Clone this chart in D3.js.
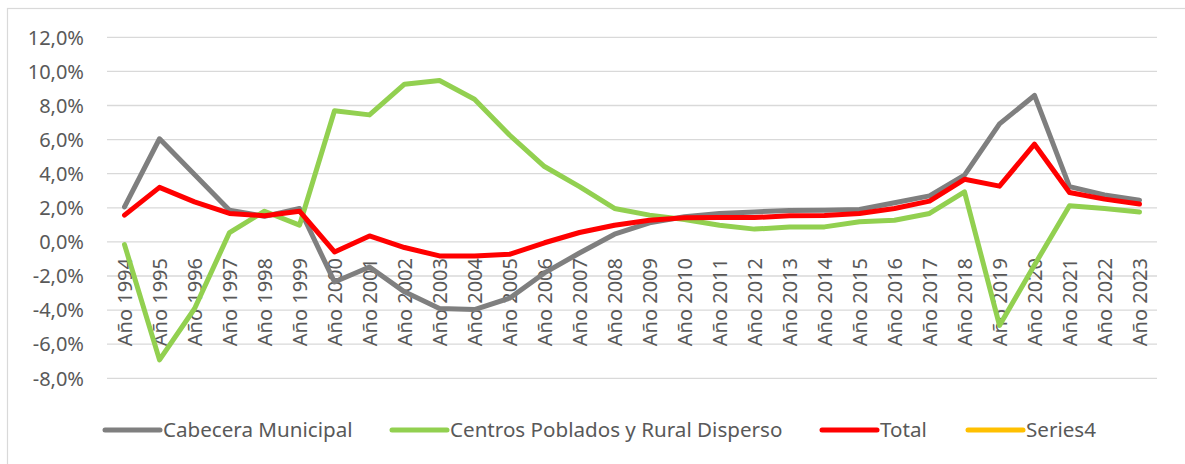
<!DOCTYPE html>
<html>
<head>
<meta charset="utf-8">
<script src="https://cdn.jsdelivr.net/npm/d3@7"></script>
<style>
  body { margin: 0; background: #fff; }
  text { font-family: "Noto Sans", sans-serif; fill: #595959; }
</style>
</head>
<body>
<div id="chart-area"></div>
<script>
// Data
var years = ["Año 1994","Año 1995","Año 1996","Año 1997","Año 1998","Año 1999","Año 2000","Año 2001","Año 2002","Año 2003",
             "Año 2004","Año 2005","Año 2006","Año 2007","Año 2008","Año 2009","Año 2010","Año 2011","Año 2012","Año 2013",
             "Año 2014","Año 2015","Año 2016","Año 2017","Año 2018","Año 2019","Año 2020","Año 2021","Año 2022","Año 2023"];

var cabecera = [2.05, 6.05, 3.95, 1.86, 1.5, 1.96, -2.35, -1.47, -2.93, -3.9,
                -3.97, -3.3, -1.82, -0.65, 0.45, 1.12, 1.47, 1.67, 1.76, 1.84,
                1.86, 1.9, 2.3, 2.7, 3.92, 6.92, 8.59, 3.24, 2.75, 2.45];

var centros = [-0.16, -6.92, -3.92, 0.55, 1.8, 0.98, 7.69, 7.45, 9.25, 9.47,
               8.37, 6.27, 4.42, 3.24, 1.96, 1.57, 1.31, 0.98, 0.75, 0.88,
               0.88, 1.18, 1.27, 1.67, 2.94, -4.9, -1.35, 2.12, 1.96, 1.76];

var total = [1.57, 3.2, 2.35, 1.67, 1.53, 1.8, -0.59, 0.35, -0.33, -0.82,
             -0.82, -0.73, -0.05, 0.55, 0.98, 1.27, 1.41, 1.43, 1.43, 1.53,
             1.55, 1.67, 1.96, 2.39, 3.67, 3.27, 5.73, 2.9, 2.51, 2.22];

var series4 = [];

var yTicks = [-8, -6, -4, -2, 0, 2, 4, 6, 8, 10, 12];

var seriesNames = ["Cabecera Municipal", "Centros Poblados y Rural Disperso", "Total", "Series4"];
var seriesColors = ["#7f7f7f", "#92d050", "#ff0000", "#ffc000"];
var seriesValues = [cabecera, centros, total, series4];

// --> SVG
var width = 1185;
var height = 464;

var svg = d3.select("#chart-area").append("svg")
  .attr("width", width)
  .attr("height", height);

// chart border
svg.append("rect")
  .attr("x", 7.5).attr("y", 8.5)
  .attr("width", 1200).attr("height", 480)
  .attr("fill", "none")
  .attr("stroke", "#d9d9d9")
  .attr("stroke-width", 1.2);

// Scales
var x = d3.scaleBand()
  .domain(years)
  .range([107, 1157]);

var y = d3.scaleLinear()
  .domain([-8, 12])
  .range([378.3, 37.3]);

var fmt = function(d) { return d.toFixed(1).replace(".", ",") + "%"; };

// gridlines
svg.append("g").attr("class", "grid")
  .selectAll("line")
  .data(yTicks)
  .enter().append("line")
  .attr("x1", 107).attr("x2", 1157)
  .attr("y1", function(d) { return y(d); })
  .attr("y2", function(d) { return y(d); })
  .attr("stroke", "#d9d9d9")
  .attr("stroke-width", 1.3);

// y axis labels
svg.append("g")
  .selectAll("text")
  .data(yTicks)
  .enter().append("text")
  .attr("x", 84)
  .attr("y", function(d) { return y(d); })
  .attr("dy", "0.36em")
  .attr("text-anchor", "end")
  .style("font-size", "20px")
  .text(fmt);

// x axis labels (sit at the zero line)
svg.append("g")
  .selectAll("text")
  .data(years)
  .enter().append("text")
  .attr("transform", function(d) {
    return "translate(" + (x(d) + x.bandwidth() / 2) + "," + 258 + ") rotate(-90)";
  })
  .attr("dy", "0.36em")
  .attr("text-anchor", "end")
  .style("font-size", "20px")
  .text(function(d) { return d; });

// lines
var line = d3.line()
  .x(function(d, i) { return x(years[i]) + x.bandwidth() / 2; })
  .y(function(d) { return y(d); });

svg.append("g")
  .selectAll("path")
  .data(seriesValues)
  .enter().append("path")
  .attr("d", function(d) { return d.length ? line(d) : null; })
  .attr("fill", "none")
  .attr("stroke", function(d, i) { return seriesColors[i]; })
  .attr("stroke-width", 5)
  .attr("stroke-linejoin", "round")
  .attr("stroke-linecap", "round");

// legend
var legendX = [105, 392, 822, 968];
var legend = svg.append("g").attr("class", "legend");

var items = legend.selectAll("g")
  .data(seriesNames)
  .enter().append("g")
  .attr("transform", function(d, i) { return "translate(" + legendX[i] + ",430)"; });

items.append("line")
  .attr("x1", 0).attr("x2", 55)
  .attr("stroke", function(d, i) { return seriesColors[i]; })
  .attr("stroke-width", 5)
  .attr("stroke-linecap", "round");

items.append("text")
  .attr("x", 58)
  .attr("dy", "0.36em")
  .style("font-size", "20.6px")
  .text(function(d) { return d; });
</script>
</body>
</html>
